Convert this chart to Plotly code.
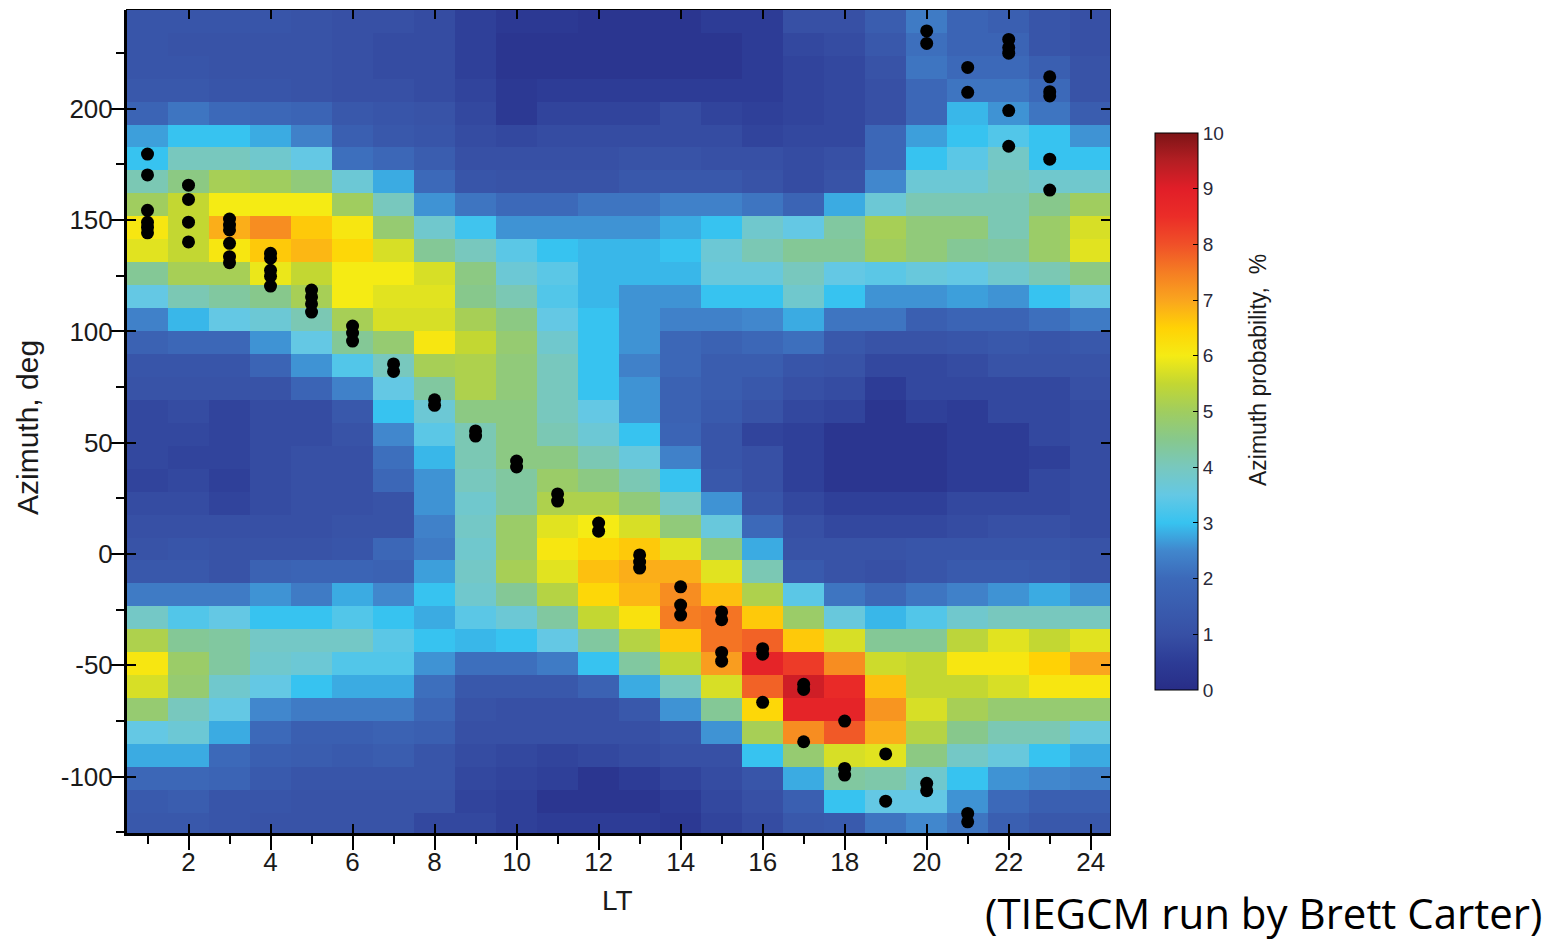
import plotly.graph_objects as go

# ---------------- data ----------------
lt = list(range(1, 25))

# azimuth bin centres, top row first (deg)
azimuth = [239.3, 228.9, 218.6, 208.3, 198.0, 187.7, 177.4, 167.1, 156.8, 146.5,
           136.2, 125.9, 115.6, 105.3, 95.0, 84.7, 74.4, 64.1, 53.8, 43.5,
           33.2, 22.9, 12.6, 2.3, -8.0, -18.3, -28.6, -38.9, -49.2, -59.5,
           -69.8, -80.1, -90.4, -100.7, -111.0, -121.3]

# azimuth probability (%), one row per azimuth bin (top row first), LT 1..24
prob = [
    [1.2,1.2,1.2,1.2,1.1,1.0,1.0,0.9, 0.6,0.4,0.4,0.3,0.3,0.3,0.5,0.5, 1.0,1.0,1.5,2.3,1.8,1.6,1.2,1.0],
    [1.2,1.1,1.1,1.1,1.1,1.0,0.9,0.9, 0.6,0.3,0.3,0.3,0.3,0.3,0.3,0.5, 0.8,0.9,1.3,2.1,1.8,1.8,1.2,1.0],
    [1.2,1.2,1.1,1.1,1.1,1.0,0.9,0.9, 0.6,0.3,0.3,0.3,0.3,0.3,0.3,0.5, 0.7,0.8,1.1,2.2,2.0,2.0,1.6,1.1],
    [1.3,1.3,1.2,1.2,1.1,1.0,1.0,0.9, 0.7,0.4,0.5,0.5,0.5,0.5,0.5,0.5, 0.7,0.8,1.0,1.9,2.2,2.2,2.0,1.1],
    [1.8,2.2,2.0,1.9,1.8,1.3,1.2,1.1, 0.8,0.4,0.7,0.7,0.7,0.9,0.7,0.6, 0.7,0.8,1.0,1.9,2.9,2.6,2.2,1.5],
    [2.7,3.0,3.0,2.8,2.4,1.6,1.3,1.2, 0.9,0.8,0.9,0.9,0.9,0.9,0.9,0.7, 0.8,0.8,1.9,2.7,3.0,3.3,3.0,2.6],
    [3.0,4.0,4.0,3.8,3.5,2.1,1.9,1.5, 1.0,1.0,1.0,1.0,1.1,1.1,1.0,1.0, 0.9,1.0,1.9,3.0,3.4,3.9,3.0,3.0],
    [4.1,4.6,5.1,5.0,4.7,3.7,2.8,2.0, 1.2,1.1,1.1,1.1,1.3,1.3,1.3,1.1, 0.9,1.1,2.5,3.7,3.7,4.0,3.8,3.8],
    [5.0,5.5,6.0,6.0,6.0,5.0,4.0,2.6, 2.2,2.0,2.0,2.2,2.2,2.4,2.4,2.2, 1.8,2.8,3.7,4.1,4.1,4.1,4.5,5.0],
    [6.1,5.5,6.9,7.3,6.6,6.1,4.8,3.8, 3.1,2.6,2.6,2.6,2.6,2.8,3.0,3.8, 3.5,4.3,5.1,4.7,4.7,4.1,4.9,5.7],
    [5.8,5.5,6.1,6.6,6.8,6.4,5.7,4.4, 4.0,3.4,3.0,2.9,2.9,3.0,3.7,4.1, 4.4,4.4,5.0,4.7,4.4,4.3,4.9,5.8],
    [4.4,5.1,5.1,5.9,5.5,6.0,6.0,5.7, 4.6,3.7,3.4,2.9,2.9,2.9,3.6,3.6, 4.0,3.5,3.4,3.6,3.5,3.8,4.1,4.6],
    [3.5,4.1,4.3,4.5,5.1,6.0,5.8,5.8, 4.5,4.1,3.3,2.9,2.6,2.6,3.0,3.0, 3.8,3.0,2.6,2.6,2.7,2.6,3.0,3.5],
    [2.4,2.9,3.5,3.7,4.1,5.1,5.7,5.7, 5.1,4.6,3.5,3.0,2.6,2.4,2.4,2.5, 2.8,2.2,2.2,1.6,1.8,1.8,2.1,2.3],
    [1.7,1.9,1.9,2.6,3.5,4.4,4.8,6.1, 5.5,4.8,3.8,3.0,2.6,1.9,1.7,1.9, 2.1,1.3,1.1,1.1,1.2,1.3,1.2,1.3],
    [1.2,1.2,1.2,1.8,2.6,3.3,4.0,5.1, 5.2,4.7,4.0,3.0,2.4,1.9,1.5,1.5, 1.2,1.1,0.8,0.8,0.9,1.1,1.1,1.1],
    [1.1,1.1,1.1,1.1,1.8,2.4,3.5,4.3, 5.2,4.7,4.0,3.0,2.6,1.7,1.5,1.3, 1.0,0.9,0.5,0.8,0.8,0.8,0.8,1.0],
    [0.8,0.9,0.7,0.9,0.9,1.3,3.0,3.7, 4.6,4.6,4.0,3.5,2.6,1.7,1.4,1.1, 0.8,0.7,0.3,0.6,0.5,0.8,0.8,0.9],
    [0.8,0.8,0.7,0.9,0.9,1.1,2.5,3.4, 4.1,4.6,4.1,3.7,3.0,1.8,1.2,0.7, 0.6,0.3,0.3,0.3,0.5,0.5,0.8,0.9],
    [0.8,0.7,0.7,0.9,1.0,1.0,2.1,2.9, 4.1,4.6,4.6,4.1,3.6,2.4,1.2,1.0, 0.6,0.3,0.3,0.3,0.5,0.5,0.6,0.9],
    [0.7,0.8,0.6,0.9,1.0,1.0,1.9,2.6, 4.0,4.3,4.9,4.6,4.1,3.0,1.3,1.0, 0.6,0.3,0.3,0.3,0.5,0.5,0.8,0.9],
    [0.9,0.9,0.7,0.9,1.0,1.0,1.1,2.6, 3.8,4.3,5.2,5.2,4.7,3.9,2.6,1.2, 0.8,0.6,0.6,0.6,0.8,0.8,0.8,0.9],
    [1.0,1.0,1.0,1.0,1.0,1.1,1.1,2.4, 3.9,4.9,5.8,6.0,5.7,4.7,3.6,2.0, 1.0,0.8,0.8,0.8,0.9,1.0,1.0,0.9],
    [1.1,1.2,1.1,1.1,1.1,1.2,1.9,2.3, 3.8,4.9,6.1,6.4,6.6,5.8,4.6,2.8, 1.1,1.1,1.1,1.2,1.2,1.2,1.2,1.1],
    [1.3,1.3,1.1,1.7,1.8,1.8,1.7,2.7, 3.9,5.1,5.8,6.7,6.9,6.9,5.8,4.1, 1.4,1.1,1.0,1.2,1.4,1.4,1.3,1.1],
    [2.3,2.3,2.3,2.6,2.3,2.8,2.5,3.0, 3.8,4.4,5.3,6.4,6.8,7.3,6.7,5.2, 3.4,2.2,1.9,2.2,2.4,2.6,2.8,2.6],
    [3.9,3.3,3.5,3.0,3.0,3.3,3.0,2.8, 3.4,3.7,4.3,5.5,6.2,7.5,7.6,6.6, 4.9,3.6,2.9,3.3,3.8,4.0,4.0,4.0],
    [5.2,4.4,4.3,3.9,3.9,3.9,3.4,3.0, 2.9,3.0,3.5,4.3,5.3,6.6,7.6,7.8, 6.6,5.7,4.4,4.4,5.4,5.8,5.5,5.8],
    [6.1,4.9,4.3,3.8,3.7,3.3,3.3,2.6, 2.1,2.1,2.3,3.0,4.3,5.5,7.1,8.8, 8.3,7.3,5.6,5.5,6.1,6.1,6.5,7.0],
    [5.7,4.8,3.8,3.5,3.0,2.8,2.8,2.1, 1.3,1.3,1.3,1.7,2.8,4.0,5.7,7.8, 9.2,8.6,6.7,5.5,5.5,5.7,6.1,6.1],
    [4.8,4.0,3.5,2.5,2.3,2.3,2.3,1.9, 1.1,1.0,1.0,1.0,1.3,2.6,4.4,6.4, 8.8,8.8,7.2,5.7,5.1,4.8,4.8,4.8],
    [3.5,3.7,2.8,2.0,1.6,1.6,1.7,1.6, 1.0,1.0,1.0,1.0,1.0,1.2,2.6,5.1, 7.3,7.9,6.9,5.3,4.5,4.1,4.1,3.6],
    [2.8,2.8,2.0,1.6,1.5,1.4,1.5,1.2, 0.9,0.8,0.7,0.8,0.9,1.0,1.0,3.0, 4.8,5.7,5.8,4.6,3.9,3.6,3.0,2.8],
    [1.9,1.9,1.8,1.4,1.2,1.2,1.2,1.2, 0.8,0.7,0.6,0.3,0.5,0.7,0.9,1.2, 2.8,4.3,4.2,3.8,3.0,2.6,2.5,2.4],
    [1.4,1.5,1.2,1.2,1.1,1.1,1.1,1.1, 0.7,0.6,0.3,0.3,0.3,0.5,0.8,1.0, 1.6,3.0,3.5,3.5,2.6,2.0,1.6,1.6],
    [1.3,1.3,1.2,1.1,1.1,1.1,1.1,0.8, 0.8,0.6,0.5,0.5,0.5,0.4,0.7,0.9, 1.3,1.4,2.2,2.5,2.2,1.6,1.3,1.3],
]

# observed azimuths (black dots)
dot_lt = [1,1,1,1,1,1, 2,2,2,2, 3,3,3,3,3,3, 4,4,4,4,4, 5,5,5,5, 6,6,6, 7,7, 8,8,
          9,9, 10,10, 11,11, 12,12, 13,13,13, 14,14,14, 15,15,15,15, 16,16,16,
          17,17,17, 18,18,18, 19,19, 20,20,20,20, 21,21,21,21, 22,22,22,22,22,
          23,23,23,23,23]
dot_az = [179.7,170.3,154.4,149.0,146.8,144.3,
          165.7,159.3,149.1,140.2,
          150.5,147.8,145.6,139.6,133.6,130.9,
          135.1,132.9,127.5,124.8,120.4,
          118.6,115.5,112.4,108.7,
          102.4,99.3,95.7,
          85.4,82.0,
          69.3,66.8,
          55.3,53.0,
          41.8,39.1,
          27.0,23.8,
          13.9,10.3,
          -0.4,-3.6,-6.3,
          -14.7,-22.9,-27.4,
          -26.0,-29.5,-44.2,-48.1,
          -42.5,-45.0,-66.6,
          -58.5,-60.8,-84.3,
          -75.0,-96.3,-99.3,
          -89.8,-111.0,
          235.0,229.4,-103.0,-106.3,
          218.6,207.4,-116.5,-120.3,
          231.2,227.5,225.0,199.2,183.2,
          214.4,207.7,205.8,177.4,163.5]

x_ticks = [2, 4, 6, 8, 10, 12, 14, 16, 18, 20, 22, 24]
y_ticks = [-100, -50, 0, 50, 100, 150, 200]
cb_ticks = [0, 1, 2, 3, 4, 5, 6, 7, 8, 9, 10]

# ---------------- style ----------------
cscale = [
    [0.00, "rgb(40,45,135)"], [0.05, "rgb(45,60,150)"], [0.10, "rgb(55,80,165)"],
    [0.20, "rgb(60,105,185)"], [0.25, "rgb(65,135,205)"], [0.30, "rgb(55,195,240)"],
    [0.35, "rgb(100,200,228)"], [0.40, "rgb(120,200,190)"], [0.45, "rgb(135,200,140)"],
    [0.50, "rgb(160,205,95)"], [0.55, "rgb(195,215,50)"], [0.60, "rgb(245,235,20)"],
    [0.65, "rgb(255,210,5)"], [0.70, "rgb(250,165,30)"], [0.75, "rgb(245,125,35)"],
    [0.80, "rgb(240,80,40)"], [0.85, "rgb(235,45,40)"], [0.90, "rgb(225,30,40)"],
    [0.95, "rgb(180,30,35)"], [1.00, "rgb(125,20,22)"],
]

FONT = "Liberation Sans, Arial, Helvetica, sans-serif"
W, H = 1551, 942
L, R, T, B = 127, 441, 10, 109
pw, ph = W - L - R, H - T - B

def px_x(p):
    return (p - L) / pw

def px_y(p):
    return (H - B - p) / ph

az_asc = azimuth[::-1]
prob_asc = prob[::-1]

fig = go.Figure()
fig.add_trace(go.Heatmap(
    x=lt, y=az_asc, z=prob_asc, zmin=0, zmax=10, colorscale=cscale,
    hoverinfo="skip",
    colorbar=dict(
        x=px_x(1155), xanchor="left", xpad=0,
        y=px_y(411.5), yanchor="middle", ypad=0,
        len=557, lenmode="pixels", thickness=43, thicknessmode="pixels",
        outlinewidth=1, outlinecolor="black",
        tickmode="array", tickvals=cb_ticks, ticktext=[str(v) for v in cb_ticks],
        ticks="inside", ticklen=5, tickcolor="black",
        tickfont=dict(family=FONT, size=19, color="#2a2a3a"),
    ),
))
fig.add_trace(go.Scatter(
    x=dot_lt, y=dot_az, mode="markers",
    marker=dict(color="black", size=13, line=dict(width=0)),
    hoverinfo="skip", showlegend=False,
))
fig.add_trace(go.Scatter(x=[], y=[], xaxis="x2", yaxis="y2",
                         showlegend=False, hoverinfo="skip"))

xr = [0.5, 24.47]
yr = [-125.3, 244.4]

fig.update_layout(
    width=W, height=H,
    margin=dict(l=L, r=R, t=T, b=B, pad=0),
    paper_bgcolor="white", plot_bgcolor="white",
    showlegend=False,
    font=dict(family=FONT, color="black"),
    xaxis=dict(
        range=xr, tickmode="array", tickvals=x_ticks,
        ticktext=[str(v) for v in x_ticks],
        ticks="outside", ticklen=14, tickwidth=2, tickcolor="black",
        ticklabelstandoff=-10,
        minor=dict(ticks="outside", dtick=1, tick0=0, ticklen=8, tickwidth=2, tickcolor="black"),
        showline=True, linewidth=3, linecolor="black",
        showgrid=False, zeroline=False,
        tickfont=dict(family=FONT, size=26, color="#1a1a1a"),
    ),
    yaxis=dict(
        range=yr, tickmode="array", tickvals=y_ticks,
        ticktext=[str(v) for v in y_ticks],
        ticks="outside", ticklen=14, tickwidth=2, tickcolor="black",
        ticklabelstandoff=-8,
        minor=dict(ticks="outside", dtick=25, tick0=0, ticklen=8, tickwidth=2, tickcolor="black"),
        showline=True, linewidth=3, linecolor="black",
        showgrid=False, zeroline=False,
        tickfont=dict(family=FONT, size=26, color="#1a1a1a"),
    ),
    xaxis2=dict(
        overlaying="x", range=xr, side="bottom",
        tickmode="array", tickvals=x_ticks,
        ticks="inside", ticklen=9, tickwidth=1.5, tickcolor="black",
        showticklabels=False, showline=True, linewidth=1, linecolor="black",
        mirror="ticks", showgrid=False, zeroline=False,
    ),
    yaxis2=dict(
        overlaying="y", range=yr, side="left",
        tickmode="array", tickvals=y_ticks,
        ticks="inside", ticklen=9, tickwidth=1.5, tickcolor="black",
        showticklabels=False, showline=True, linewidth=1, linecolor="black",
        mirror="ticks", showgrid=False, zeroline=False,
    ),
    annotations=[
        dict(text="LT", xref="paper", yref="paper", x=px_x(617), y=px_y(900),
             xanchor="center", yanchor="middle", showarrow=False,
             font=dict(family=FONT, size=28, color="#1a1a1a")),
        dict(text="Azimuth, deg", xref="paper", yref="paper", x=px_x(28), y=px_y(428),
             xanchor="center", yanchor="middle", showarrow=False, textangle=-90,
             font=dict(family=FONT, size=30, color="#1a1a1a")),
        dict(text="Azimuth probability,  %", xref="paper", yref="paper",
             x=px_x(1258), y=px_y(370), xanchor="center", yanchor="middle",
             showarrow=False, textangle=-90,
             font=dict(family=FONT, size=23, color="#1a1a1a")),
        dict(text="(TIEGCM run by Brett Carter)", xref="paper", yref="paper",
             x=px_x(983), y=px_y(912), xanchor="left", yanchor="middle",
             showarrow=False,
             font=dict(family="Open Sans, Noto Sans, sans-serif", size=42, color="black")),
    ],
)

fig.write_html("out.html")
